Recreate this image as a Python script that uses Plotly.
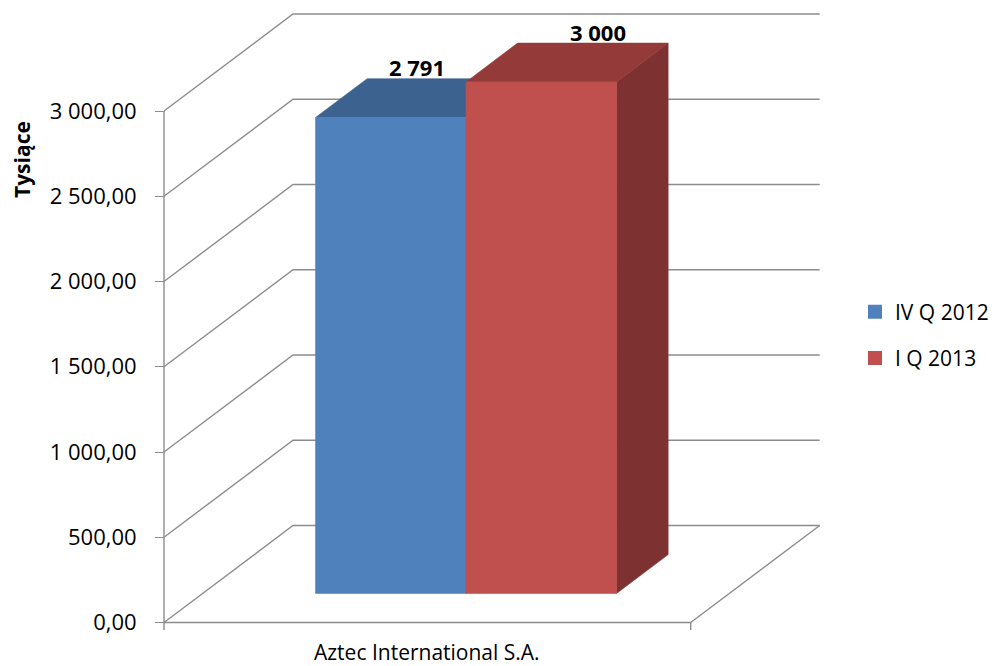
import plotly.graph_objects as go

# ---------------- data ----------------
categories = ["Aztec International S.A."]
series_names = ["IV Q 2012", "I Q 2013"]
series_values = [2791, 3000]
tick_values = [0, 500, 1000, 1500, 2000, 2500, 3000]
y_title = "Tysiące"

# ---------------- style ----------------
front_colors = ["#4F81BD", "#C0504D"]
top_colors = ["#3C6290", "#943B39"]
side_colors = ["#3A5E8A", "#7D3231"]
grid_color = "#8C8C8C"
FONT = "Open Sans"

# page body has an 8px margin, so the figure is drawn 8px smaller and
# every pixel reference below is expressed relative to the figure.
OFF = 8
W, H = 997 - OFF, 666 - OFF
PX_X = 526.7                       # pixels per category width
PX_V = 0.1705                      # pixels per value unit
ORIGIN = (164 - OFF, 622.5 - OFF)  # pixel of (x=0, value=0)
DEPTH_X = 129 / PX_X               # oblique depth offset (data units)
DEPTH_Y = 97 / PX_V
BAR_W = 1 / 3.5
GAP = 1.5 * BAR_W
D0, D1 = 0.3, 0.7                  # bar depth span

ml, mr, mt, mb = ORIGIN[0] - 20, 167, 2, 26
plot_w = W - ml - mr
plot_h = H - mt - mb
x_range = [(ml - ORIGIN[0]) / PX_X, (W - mr - ORIGIN[0]) / PX_X]
y_range = [(ORIGIN[1] - (H - mb)) / PX_V, (ORIGIN[1] - mt) / PX_V]


def paper(px, py):
    return (px - OFF - ml) / plot_w, 1 - (py - OFF - mt) / plot_h


def proj(x, v, d):
    return x + d * DEPTH_X, v + d * DEPTH_Y


fig = go.Figure()

# ---- walls / gridlines ----
gx, gy = [], []
for v in tick_values:
    a = proj(0, v, 0)
    b = proj(0, v, 1)
    c = proj(1, v, 1)
    gx += [a[0], b[0], c[0], None]
    gy += [a[1], b[1], c[1], None]
p = proj(1, 0, 0)
q = proj(1, 0, 1)
gx += [p[0], q[0], None]
gy += [p[1], q[1], None]
fig.add_trace(go.Scatter(x=gx, y=gy, mode="lines",
                         line=dict(color=grid_color, width=1.4),
                         hoverinfo="skip", showlegend=False))


def poly(pts, color):
    xs = [p[0] for p in pts] + [pts[0][0]]
    ys = [p[1] for p in pts] + [pts[0][1]]
    fig.add_trace(go.Scatter(x=xs, y=ys, mode="lines", fill="toself",
                             fillcolor=color, line=dict(color=color, width=0.6),
                             hoverinfo="skip", showlegend=False))


# ---- bars (oblique 3D boxes) ----
for i, v in enumerate(series_values):
    x0 = GAP / 2 + i * BAR_W
    x1 = x0 + BAR_W
    poly([proj(x1, 0, D0), proj(x1, 0, D1), proj(x1, v, D1), proj(x1, v, D0)],
         side_colors[i])
    poly([proj(x0, v, D0), proj(x1, v, D0), proj(x1, v, D1), proj(x0, v, D1)],
         top_colors[i])
    poly([proj(x0, 0, D0), proj(x1, 0, D0), proj(x1, v, D0), proj(x0, v, D0)],
         front_colors[i])

# ---- front axis lines and ticks ----
tick_down = -7.5 / PX_V
fx = [0, 0, None, 0, 1, None, 1, 1]
fy = [tick_values[-1], tick_down, None, 0, 0, None, 0, tick_down]
fig.add_trace(go.Scatter(x=fx, y=fy, mode="lines",
                         line=dict(color=grid_color, width=1.4),
                         hoverinfo="skip", showlegend=False))

# ---- legend entries ----
for i, name in enumerate(series_names):
    fig.add_trace(go.Scatter(x=[None], y=[None], mode="markers", name=name,
                             marker=dict(symbol="square", size=14,
                                         color=front_colors[i]),
                             legendgroup=name, showlegend=True))

# ---- data labels ----
label_xshift = [0, 31]
for i, v in enumerate(series_values):
    x0 = GAP / 2 + i * BAR_W
    cx, cy = proj(x0 + BAR_W / 2, v, 0.5)
    fig.add_annotation(x=cx, y=cy, xref="x", yref="y",
                       text="<b>" + f"{v:,.0f}".replace(",", " ") + "</b>",
                       showarrow=False, xshift=label_xshift[i], yshift=31,
                       xanchor="center", yanchor="middle",
                       font=dict(family=FONT, size=22, color="#000000"))

# ---- category label ----
_, cy_paper = paper(0, 652)
fig.add_annotation(x=0.5, y=cy_paper, xref="x", yref="paper",
                   text=categories[0], showarrow=False,
                   xanchor="center", yanchor="middle",
                   font=dict(family=FONT, size=21, color="#000000"))

# ---- y axis title ----
tx, ty = paper(22, 160)
fig.add_annotation(x=tx, y=ty, xref="paper", yref="paper",
                   text="<b>" + y_title + "</b>", textangle=-90,
                   showarrow=False, xanchor="center", yanchor="middle",
                   font=dict(family=FONT, size=21, color="#000000"))

fig.update_layout(
    width=W, height=H,
    margin=dict(l=ml, r=mr, t=mt, b=mb, pad=0, autoexpand=False),
    paper_bgcolor="white", plot_bgcolor="white",
    separators=", ",
    font=dict(family=FONT, size=22, color="#000000"),
    showlegend=True,
    legend=dict(xref="container", yref="container",
                x=(855 - OFF) / W, y=1 - (335 - OFF) / H,
                xanchor="left", yanchor="middle",
                font=dict(family=FONT, size=21, color="#000000"),
                traceorder="grouped", tracegroupgap=16,
                bgcolor="rgba(0,0,0,0)", borderwidth=0),
    xaxis=dict(range=x_range, showticklabels=False,
               ticks="", showgrid=False, zeroline=False, showline=False,
               fixedrange=True, automargin=False),
    yaxis=dict(range=y_range, tickvals=tick_values, tickformat=",.2f",
               anchor="free", position=(ORIGIN[0] - ml) / plot_w,
               ticks="outside", ticklen=9, tickwidth=1.4, tickcolor=grid_color,
               ticklabelstandoff=14, automargin=False,
               showgrid=False, zeroline=False, showline=False, fixedrange=True,
               tickfont=dict(family=FONT, size=22, color="#000000")),
    hovermode=False,
)

fig.write_html("out.html")
